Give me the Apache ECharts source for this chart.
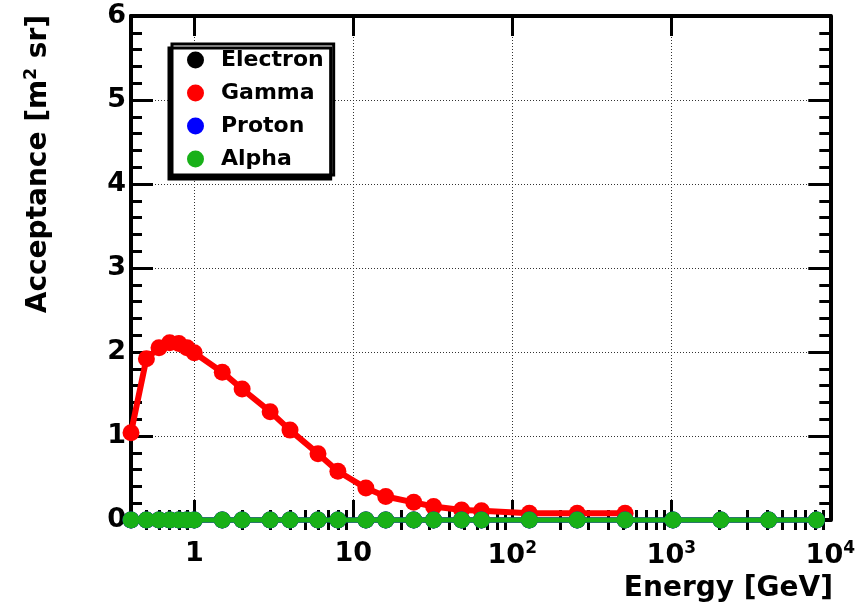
<!DOCTYPE html>
<html><head><meta charset="utf-8">
<script src="https://cdn.jsdelivr.net/npm/echarts@6/dist/echarts.min.js"></script>
<style>html,body{margin:0;padding:0;background:#fff}#c{width:858px;height:604px}</style>
</head><body><div id="c"></div>
<script>
// ---- data ----
const energy = [0.4, 0.5, 0.6, 0.7, 0.8, 0.9, 1, 1.5, 2, 3, 4, 6, 8, 12, 16, 24, 32, 48, 64, 128, 256, 512, 1024, 2048, 4096, 8192];
const gammaAcc = [1.04, 1.92, 2.05, 2.11, 2.10, 2.05, 1.99, 1.76, 1.56, 1.29, 1.07, 0.79, 0.58, 0.38, 0.28, 0.21, 0.16, 0.12, 0.11, 0.08, 0.08, 0.08];
const electronAcc = [0,0,0,0,0,0,0,0,0,0,0,0,0,0,0,0,0,0,0,0,0,0,0,0,0,0];
const protonAcc   = [0,0,0,0,0,0,0,0,0,0,0,0,0,0,0,0,0,0,0,0,0,0,0,0,0,0];
const alphaAcc    = [0,0,0,0,0,0,0,0,0,0,0,0,0,0,0,0,0,0,0,0,0,0,0,0,0,0];
const seriesNames = ['Electron', 'Gamma', 'Proton', 'Alpha'];
const xMajorTicks = [1, 10, 100, 1000, 10000];
const xMinorTicks = [0.5,0.6,0.7,0.8,0.9, 2,3,4,5,6,7,8,9, 20,30,40,50,60,70,80,90, 200,300,400,500,600,700,800,900, 2000,3000,4000,5000,6000,7000,8000,9000];
const yTicks = [0, 1, 2, 3, 4, 5, 6];

const FONT = 'DejaVu Sans';
function pairs(vals) { return vals.map((v, i) => [energy[i], v]); }
function xLabel(v) {
  const e = Math.round(Math.log10(v));
  if (e === 0) return '1';
  if (e === 1) return '10';
  return '10{sup|' + e + '}';
}

const black = '#000';
const majorX = (pos, labels) => ({
  type: 'log', logBase: 10, min: 0.4, max: 10000, position: pos, gridIndex: 0,
  axisLine: { show: true, onZero: false, lineStyle: { color: black, width: 4 } },
  axisTick: { show: true, inside: true, length: 20, customValues: xMajorTicks, lineStyle: { color: black, width: 3 } },
  axisLabel: labels ? {
    show: true, customValues: xMajorTicks, formatter: xLabel, margin: 20,
    fontFamily: FONT, fontWeight: 'bold', fontSize: 27, color: black,
    rich: { sup: { fontFamily: FONT, fontWeight: 'bold', fontSize: 17, padding: [0, 0, 15, 0], color: black } }
  } : { show: false },
  splitLine: { show: labels, lineStyle: { color: '#333', width: 1, type: [1, 2] } },
  minorTick: { show: false }
});
const minorX = (pos) => ({
  type: 'log', logBase: 10, min: 0.4, max: 10000, position: pos, gridIndex: 0,
  axisLine: { show: false },
  axisTick: { show: true, inside: true, length: 10, customValues: xMinorTicks, lineStyle: { color: black, width: 3 } },
  axisLabel: { show: false }, splitLine: { show: false }
});
const yAx = (pos, labels) => ({
  type: 'value', min: 0, max: 6, interval: 1, position: pos, gridIndex: 0,
  axisLine: { show: true, lineStyle: { color: black, width: 4 } },
  axisTick: { show: true, inside: true, length: 22, lineStyle: { color: black, width: 3 } },
  minorTick: { show: true, splitNumber: 5, length: 11, lineStyle: { color: black, width: 3 } },
  axisLabel: labels ? { show: true, margin: 5, fontFamily: FONT, fontWeight: 'bold', fontSize: 27, color: black,
    formatter: v => yTicks.indexOf(v) >= 0 ? String(v) : '' } : { show: false },
  splitLine: { show: labels, lineStyle: { color: '#333', width: 1, type: [1, 2] } },
  minorSplitLine: { show: false }
});

const mk = (name, vals, color, z, lw) => ({
  name, type: 'line', xAxisIndex: 0, yAxisIndex: 0, data: pairs(vals),
  symbol: 'circle', symbolSize: 17, showSymbol: true,
  itemStyle: { color: color }, lineStyle: { color: color, width: lw }, z: z,
  emphasis: { disabled: true }, animation: false, clip: false
});

const chart = echarts.init(document.getElementById('c'), null, { renderer: 'canvas' });
chart.setOption({
  animation: false,
  backgroundColor: '#fff',
  grid: { left: 131, right: 26, top: 16, bottom: 84, containLabel: false },
  xAxis: [majorX('bottom', true), minorX('bottom'), majorX('top', false), minorX('top')],
  yAxis: [yAx('left', true), yAx('right', false)],
  legend: {
    data: seriesNames, orient: 'vertical', left: 172, top: 44,
    padding: [4, 10, 4, 15], itemWidth: 29, itemHeight: 17, itemGap: 9, icon: 'circle',
    textStyle: { fontFamily: FONT, fontWeight: 'bold', fontSize: 22, color: black, lineHeight: 24, padding: [0, 0, 0, 6] },
    borderColor: black, borderWidth: 3, backgroundColor: '#fff',
    shadowColor: black, shadowBlur: 0.01, shadowOffsetX: -3, shadowOffsetY: 4,
    selectedMode: false
  },
  series: [
    mk('Electron', electronAcc, '#000000', 2, 5),
    mk('Gamma', gammaAcc, '#ff0000', 3, 6),
    mk('Proton', protonAcc, '#0000ff', 4, 5),
    mk('Alpha', alphaAcc, '#18b018', 5, 5)
  ],
  graphic: [
    { type: 'text', x: 39, y: 15, rotation: Math.PI / 2,
      style: { text: 'Acceptance [m{sup|2} sr]', fontFamily: FONT, fontWeight: 'bold', fontSize: 28, fill: black,
        align: 'right', verticalAlign: 'middle',
        rich: { sup: { fontFamily: FONT, fontWeight: 'bold', fontSize: 17, padding: [0, 0, 14, 0], fill: black } } } },
    { type: 'text', x: 833, y: 589,
      style: { text: 'Energy [GeV]', fontFamily: FONT, fontWeight: 'bold', fontSize: 28, fill: black,
        align: 'right', verticalAlign: 'middle' } }
  ]
});
</script></body></html>
